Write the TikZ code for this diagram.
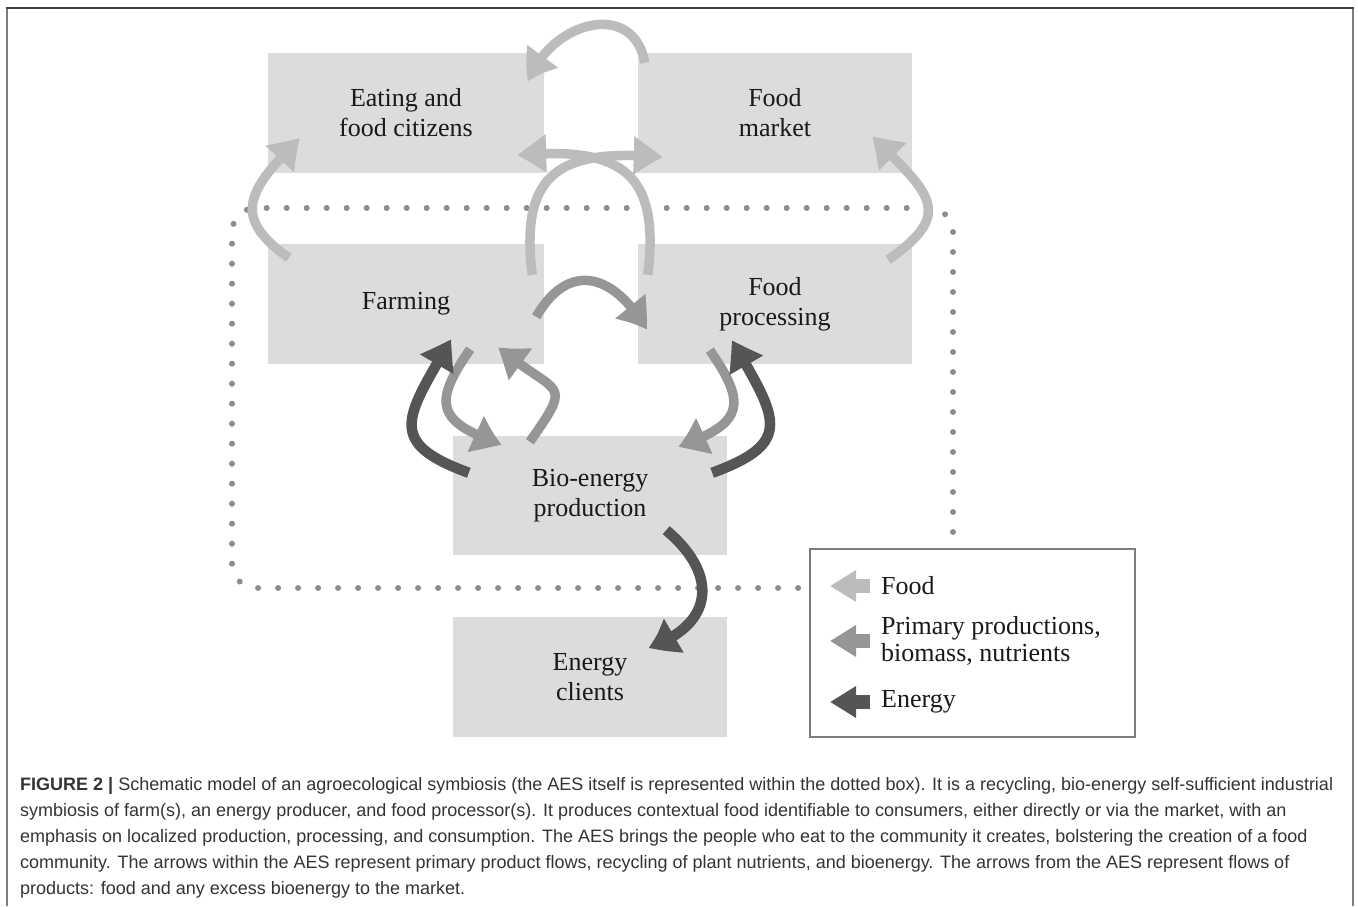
\documentclass[tikz,border=0pt]{standalone}
\usepackage{fontspec}
\setmainfont{Liberation Serif}
\newfontfamily\capfont{Liberation Sans}
\usetikzlibrary{arrows.meta,bending}
\definecolor{panelGray}{RGB}{220,220,220}
\definecolor{foodGray}{RGB}{188,188,188}
\definecolor{primaryGray}{RGB}{150,150,150}
\definecolor{energyGray}{RGB}{85,85,85}
\definecolor{dotGray}{RGB}{140,140,140}
\definecolor{frameGray}{RGB}{125,125,125}

\begin{document}
\begin{tikzpicture}[x=1pt,y=1pt,
    panel/.style={fill=panelGray, minimum width=276pt, minimum height=120pt, inner sep=0pt,
      align=center, text=black!90, font=\fontsize{26}{30}\selectfont},
    flow/.style={line width=9.5pt, -{Triangle[width=36pt,length=30pt,bend]}},
    foodFlow/.style={flow, foodGray},
    primaryFlow/.style={flow, primaryGray},
    energyFlow/.style={flow, energyGray, line width=10.5pt},
    legendText/.style={anchor=west, inner sep=0pt, align=left, text=black!90,
      font=\fontsize{26}{27}\selectfont},
    capText/.style={anchor=base west, inner sep=0pt, text=black!80,
      font=\capfont\fontsize{18}{20}\selectfont}]
  \useasboundingbox (0,0) rectangle (1358,906);
  % Frame, open at the bottom
  \draw[frameGray, line width=2pt] (7,0) -- (7,898);
  \draw[frameGray, line width=2pt] (1353,0) -- (1353,898);
  \draw[black!75, line width=2pt] (6,898) -- (1354,898);

  % Boxes
  \node[panel] (eat) at (406,793) {Eating and\\food citizens};
  \node[panel, minimum width=274pt] (market) at (775,793) {Food\\market};
  \node[panel] (farm) at (406,602) {Farming};
  \node[panel, minimum width=274pt] (proc) at (775,602) {Food\\processing};
  \node[panel, minimum width=274pt, minimum height=119pt] (bio) at (590,410.5) {Bio-energy\\production};
  \node[panel, minimum width=274pt] (clients) at (590,229) {Energy\\clients};

  % Dotted border of the AES
  \draw[dotGray, line width=6pt, line cap=round, dash pattern=on 0pt off 20pt, rounded corners=24pt]
    (953,374) -- (953,698) -- (232,698) -- (232,318) -- (808,318);

  % Food flows
  \draw[foodFlow] ([xshift=21pt,yshift=-14pt]farm.north west)
    to[out=145,in=-135,distance=72pt] ([xshift=32pt,yshift=35pt]eat.south west);
  \draw[foodFlow] ([xshift=-24pt,yshift=-16pt]proc.north east)
    to[out=35,in=-45,distance=82pt] ([xshift=-40pt,yshift=37pt]market.south east);
  \draw[foodFlow] ([xshift=-12pt,yshift=-31pt]farm.north east) to[out=97,in=175,looseness=1.5]
    ([xshift=25pt,yshift=16pt]market.south west);
  \draw[foodFlow] ([xshift=10pt,yshift=-31pt]proc.north west) to[out=83,in=5,looseness=1.5]
    ([xshift=-27pt,yshift=18pt]eat.south east);
  \draw[foodFlow] ([xshift=7pt,yshift=-10pt]market.north west) to[out=100,in=70,looseness=1.4]
    ([xshift=-16pt,yshift=-29pt]eat.north east);

  % Primary productions, biomass, nutrients
  \draw[primaryFlow] ([xshift=-8pt,yshift=-73pt]farm.north east) to[out=60,in=120,looseness=1.5]
    ([xshift=9pt,yshift=-86pt]proc.north west);
  \draw[primaryFlow] ([xshift=-74pt,yshift=15pt]farm.south east)
    to[out=235,in=160,out distance=70pt,in distance=66pt] ([xshift=49pt,yshift=-9pt]bio.north west);
  \draw[primaryFlow] ([xshift=77pt,yshift=-6pt]bio.north west)
    to[out=55,in=-40,distance=78pt] ([xshift=-46pt,yshift=17pt]farm.south east);
  \draw[primaryFlow] ([xshift=72pt,yshift=14pt]proc.south west)
    to[out=-55,in=20,out distance=70pt,in distance=66pt] ([xshift=-49pt,yshift=-11pt]bio.north east);

  % Energy
  \draw[energyFlow] ([xshift=16pt,yshift=-37pt]bio.north west) to[out=160,in=240,looseness=1.7]
    ([xshift=-93pt,yshift=25pt]farm.south east);
  \draw[energyFlow] ([xshift=-15pt,yshift=-37pt]bio.north east) to[out=20,in=-60,looseness=1.7]
    ([xshift=94pt,yshift=24pt]proc.south west);
  \draw[energyFlow] ([xshift=-61pt,yshift=25pt]bio.south east) to[out=-40,in=19,looseness=1.5]
    ([xshift=-79pt,yshift=-31pt]clients.north east);

  % Legend
  \node[draw=frameGray, line width=2pt, minimum width=325pt, minimum height=188pt, inner sep=0pt]
    (legend) at (972.5,263) {};
  \node[legendText] (lfood) at (881,320) {Food};
  \node[legendText] (lprim) at (881,265) {Primary productions,\\biomass, nutrients};
  \node[legendText] (lenergy) at (881,204) {Energy};
  \draw[foodGray, line width=14pt, -{Triangle[width=30pt,length=26pt]}]
    ([xshift=-11pt]lfood.west) -- ++(-40,0);
  \draw[primaryGray, line width=14pt, -{Triangle[width=30pt,length=26pt]}]
    ([xshift=-11pt]lprim.west) -- ++(-40,0);
  \draw[energyGray, line width=14pt, -{Triangle[width=30pt,length=26pt]}]
    ([xshift=-11pt]lenergy.west) -- ++(-40,0);

  % Caption
  \node[capText] (cap1) at (20,116) {\textbf{FIGURE 2 |} Schematic model of an agroecological symbiosis (the AES itself is represented within the dotted box). It is a recycling, bio-energy self-sufficient industrial};
  \node[capText] (cap2) at (20,90) {symbiosis of farm(s), an energy producer, and food processor(s). It produces contextual food identifiable to consumers, either directly or via the market, with an};
  \node[capText] (cap3) at (20,64) {emphasis on localized production, processing, and consumption. The AES brings the people who eat to the community it creates, bolstering the creation of a food};
  \node[capText] (cap4) at (20,38) {community. The arrows within the AES represent primary product flows, recycling of plant nutrients, and bioenergy. The arrows from the AES represent flows of};
  \node[capText] (cap5) at (20,12) {products: food and any excess bioenergy to the market.};
\end{tikzpicture}
\end{document}
